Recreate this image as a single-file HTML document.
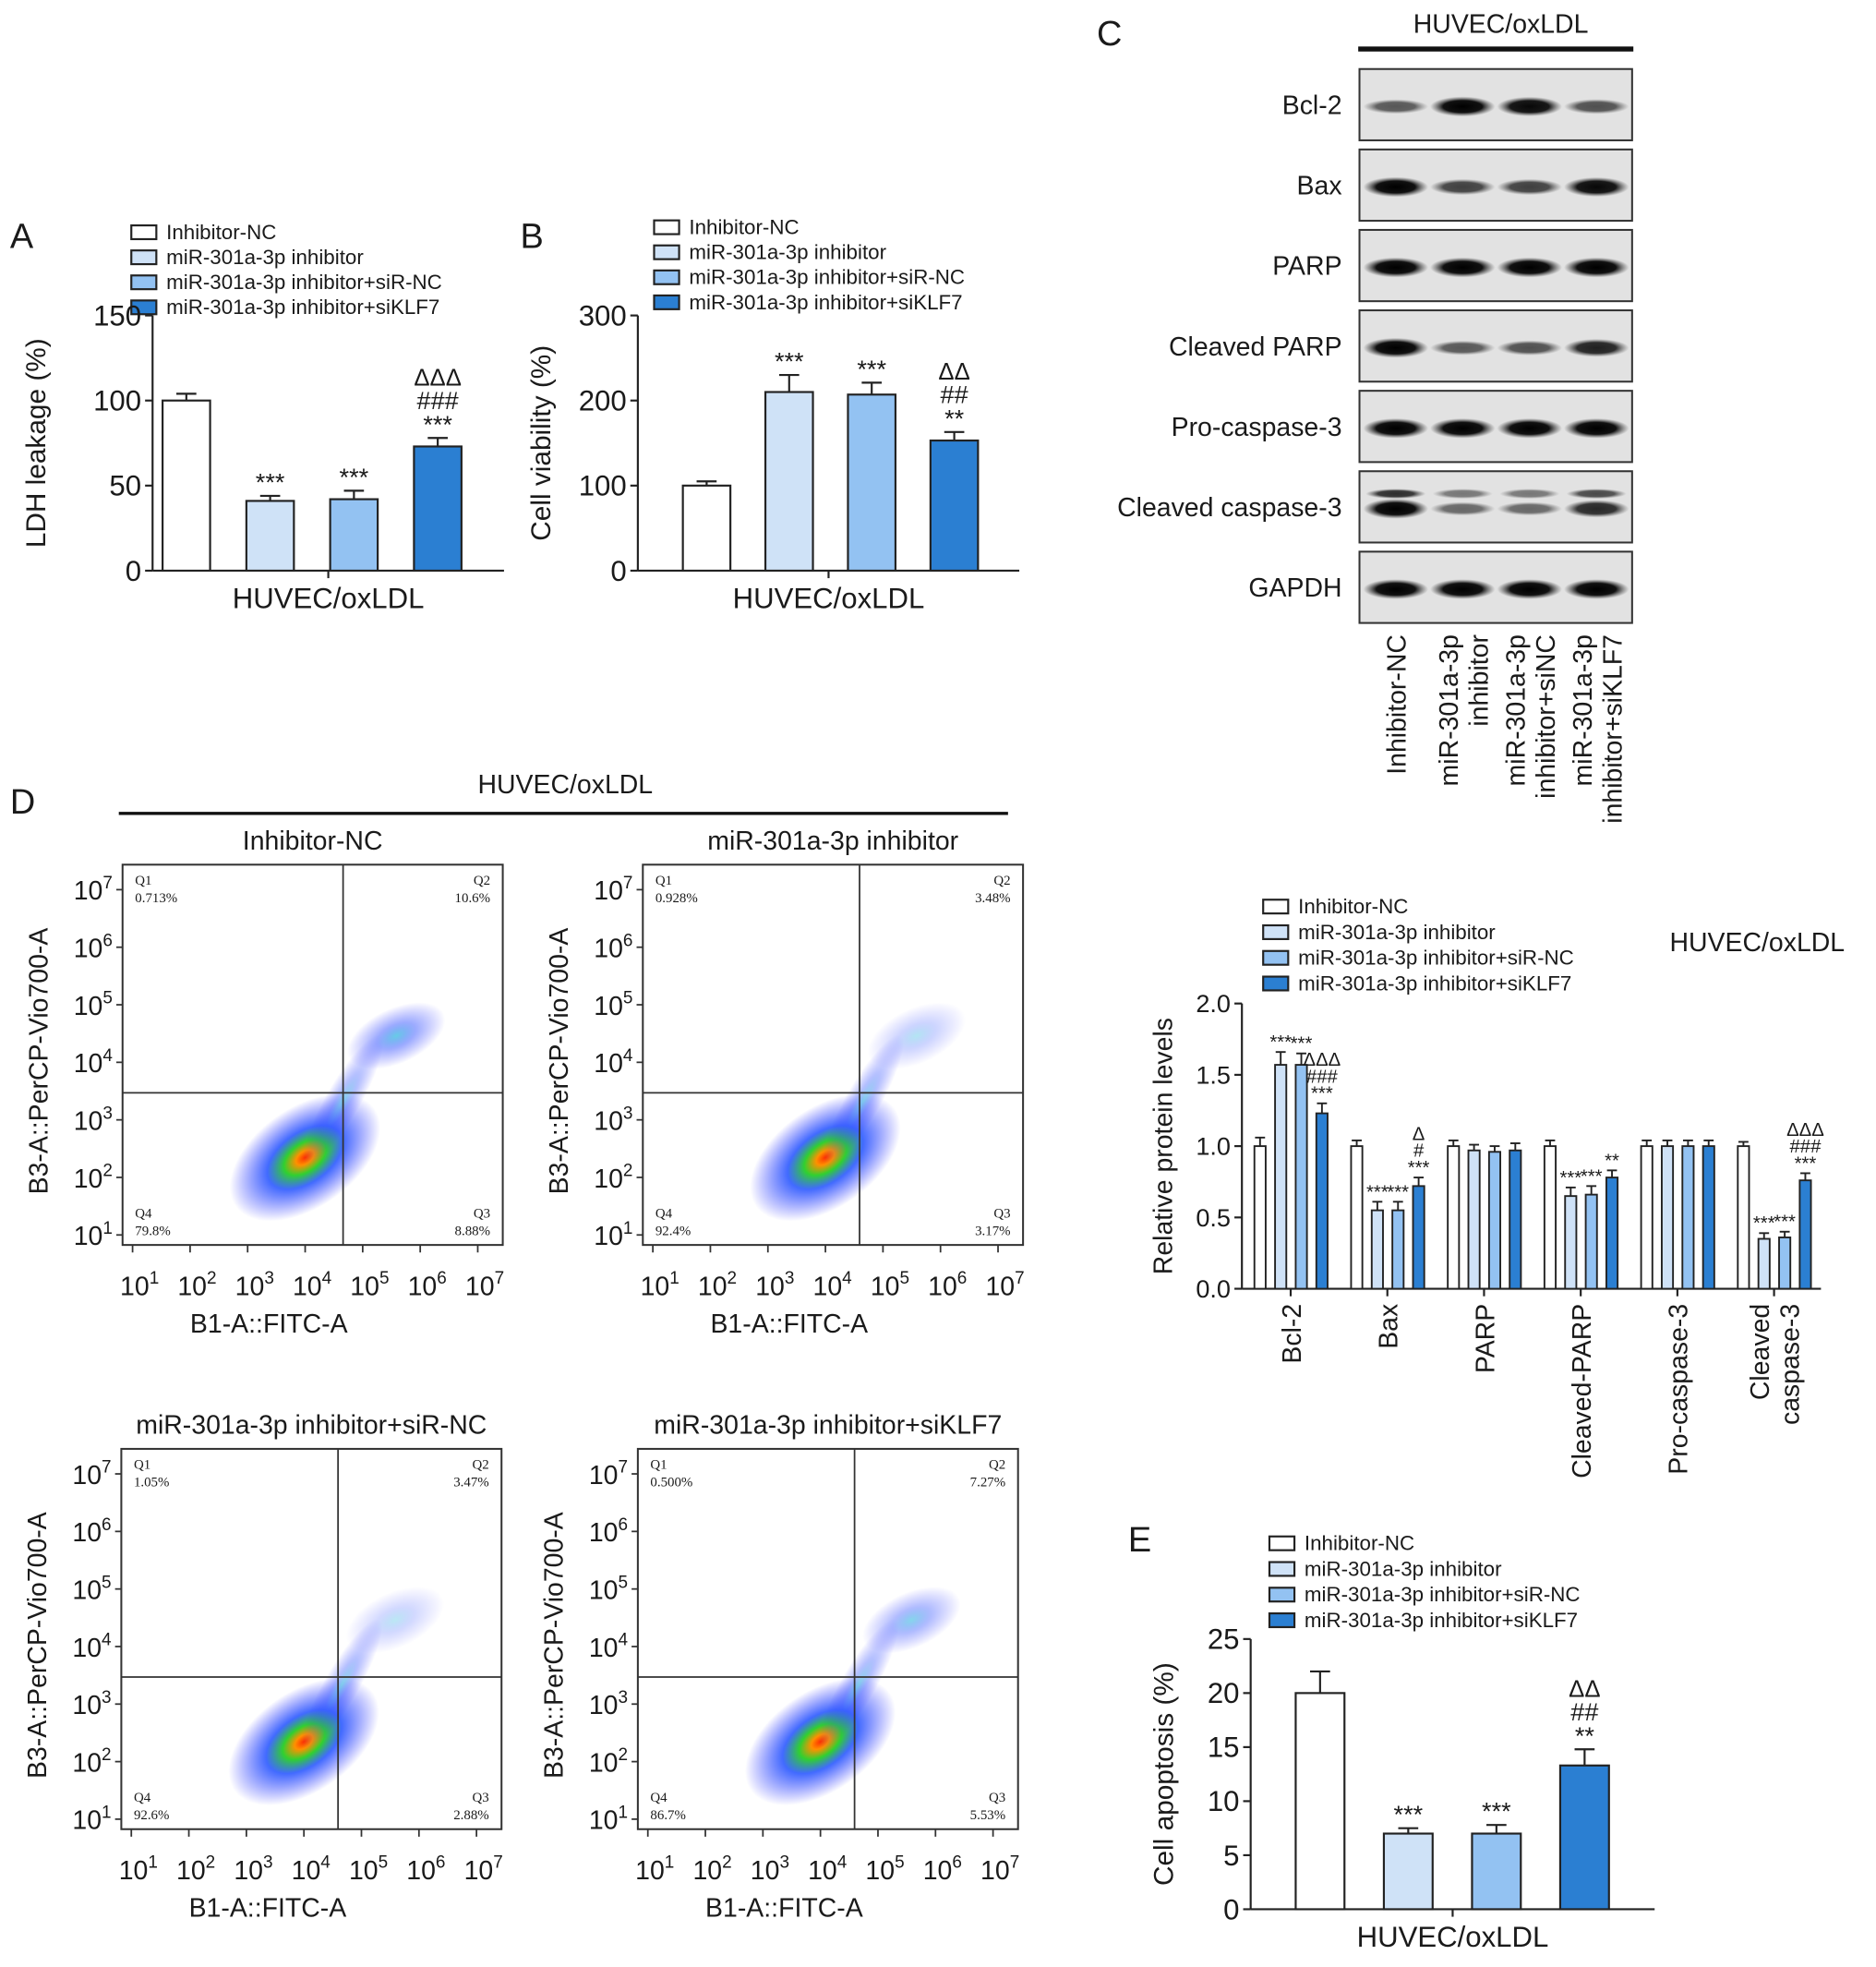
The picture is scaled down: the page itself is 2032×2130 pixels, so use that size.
<!DOCTYPE html>
<html><head><meta charset="utf-8"><style>
html,body{margin:0;padding:0;background:#fff}
svg{display:block}
text{font-family:"Liberation Sans",sans-serif;fill:#1a1a1a}
.q{font-family:"Liberation Serif",serif;font-size:11px}
</style></head><body>
<svg id="fig" width="2032" height="2130" viewBox="0 0 1500 1572" xmlns="http://www.w3.org/2000/svg">
<defs>
<radialGradient id="dens" cx="50%" cy="50%" r="50%">
<stop offset="0" stop-color="#ff3000"/><stop offset="0.12" stop-color="#ff9000"/><stop offset="0.28" stop-color="#30d030"/><stop offset="0.5" stop-color="#2050ff" stop-opacity="0.85"/><stop offset="1" stop-color="#3030ff" stop-opacity="0"/>
</radialGradient>
<radialGradient id="dens2" cx="50%" cy="50%" r="50%">
<stop offset="0" stop-color="#40c0e0"/><stop offset="0.4" stop-color="#3050ff" stop-opacity="0.6"/><stop offset="1" stop-color="#3030ff" stop-opacity="0"/>
</radialGradient>
<radialGradient id="band" cx="50%" cy="50%" r="50%">
<stop offset="0" stop-color="#000"/><stop offset="0.6" stop-color="#111"/><stop offset="1" stop-color="#444" stop-opacity="0"/>
</radialGradient>
</defs>
<g id="root"></g>
</svg>
<script>
const colors=['#ffffff','#cfe2f7','#93c2f2','#2b7fd2'];
const legendLabels=['Inhibitor-NC','miR-301a-3p inhibitor','miR-301a-3p inhibitor+siR-NC','miR-301a-3p inhibitor+siKLF7'];
const ldhValues=[100,41,42,73];
const ldhErrors=[4,3,5,5];
const ldhSig=[[],['***'],['***'],['***','###','ΔΔΔ']];
const ldhTicks=[0,50,100,150];
const viaValues=[100,210,207,153];
const viaErrors=[5,20,14,10];
const viaSig=[[],['***'],['***'],['**','##','ΔΔ']];
const viaTicks=[0,100,200,300];
const protCats=['Bcl-2','Bax','PARP','Cleaved-PARP','Pro-caspase-3','Cleaved\ncaspase-3'];
const protValues=[[1,1.57,1.57,1.23],[1,0.55,0.55,0.72],[1,0.97,0.96,0.97],[1,0.65,0.66,0.78],[1,1,1,1],[1,0.35,0.36,0.76]];
const protErrors=[[0.06,0.09,0.08,0.07],[0.04,0.06,0.06,0.06],[0.04,0.04,0.04,0.05],[0.04,0.06,0.06,0.05],[0.04,0.04,0.04,0.04],[0.03,0.04,0.04,0.05]];
const protSig=[[[],['***'],['***'],['***','###','ΔΔΔ']],[[],['***'],['***'],['***','#','Δ']],[[],[],[],[]],[[],['***'],['***'],['**']],[[],[],[],[]],[[],['***'],['***'],['***','###','ΔΔΔ']]];
const protTicks=[0,0.5,1.0,1.5,2.0];
const apoValues=[20,7,7,13.3];
const apoErrors=[2,0.5,0.8,1.5];
const apoSig=[[],['***'],['***'],['**','##','ΔΔ']];
const apoTicks=[0,5,10,15,20,25];
const blotRows=['Bcl-2','Bax','PARP','Cleaved PARP','Pro-caspase-3','Cleaved caspase-3','GAPDH'];
const blotIntensity=[[0.45,1,0.95,0.5],[1,0.6,0.6,0.95],[1,1,1,1],[1,0.45,0.5,0.8],[1,1,1,1],[1,0.35,0.35,0.75],[1,1,1,1]];
const blotLanes=['Inhibitor-NC','miR-301a-3p|inhibitor','miR-301a-3p|inhibitor+siNC','miR-301a-3p|inhibitor+siKLF7'];
const flowTitles=['Inhibitor-NC','miR-301a-3p inhibitor','miR-301a-3p inhibitor+siR-NC','miR-301a-3p inhibitor+siKLF7'];
const flowQ=[['0.713%','10.6%','8.88%','79.8%'],['0.928%','3.48%','3.17%','92.4%'],['1.05%','3.47%','2.88%','92.6%'],['0.500%','7.27%','5.53%','86.7%']];

const NS='http://www.w3.org/2000/svg';
const root=document.getElementById('root');
function el(tag,attrs,parent){const e=document.createElementNS(NS,tag);for(const k in attrs)e.setAttribute(k,attrs[k]);(parent||root).appendChild(e);return e;}
function txt(s,x,y,size,anchor,parent,extra){const t=el('text',Object.assign({x:x,y:y,'font-size':size,'text-anchor':anchor||'start'},extra||{}),parent);t.textContent=s;return t;}

function legend(x,y,gap,size,name){
  const g=el('g',{});
  
  
  legendLabels.forEach((l,i)=>{
    const r=el('rect',{x:x,y:y+i*gap-11,width:20,height:11,fill:colors[i],stroke:'#222','stroke-width':1.6},g);
    
    
    const t=txt(l,x+28,y+i*gap,size,'start',g);
    
    
  });
}

function barChart(o){
  const g=el('g',{});
  
  
  const ys=v=>o.y0-(v-o.ticks[0])/(o.ticks[o.ticks.length-1]-o.ticks[0])*(o.y0-o.y1);
  el('line',{x1:o.ax,y1:o.y1,x2:o.ax,y2:o.y0,stroke:'#222','stroke-width':1.6},g);
  el('line',{x1:o.ax,y1:o.y0,x2:o.axEnd,y2:o.y0,stroke:'#222','stroke-width':1.6},g);
  o.ticks.forEach(t=>{
    el('line',{x1:o.ax-6,y1:ys(t),x2:o.ax,y2:ys(t),stroke:'#222','stroke-width':1.6},g);
    const lb=txt(o.fmt?o.fmt(t):String(t),o.ax-9,ys(t)+8,o.tickSize||23,'end',g);
    
    
  });
  const mid=(o.ax+o.axEnd)/2;
  el('line',{x1:mid,y1:o.y0,x2:mid,y2:o.y0+6,stroke:'#222','stroke-width':1.6},g);
  const xt=txt('HUVEC/oxLDL',mid,o.y0+30,23,'middle',g);
  
  
  const yt=txt(o.ytitle,0,0,22,'middle',g,{transform:`translate(${o.ax-(o.titleOff||72)},${(o.y0+o.y1)/2}) rotate(-90)`});
  
  
  o.values.forEach((v,i)=>{
    const x=o.bx0+i*o.step, top=ys(v), et=ys(v+o.errors[i]);
    el('line',{x1:x+o.bw/2,y1:top,x2:x+o.bw/2,y2:et,stroke:'#222','stroke-width':1.6},g);
    el('line',{x1:x+o.bw/2-8,y1:et,x2:x+o.bw/2+8,y2:et,stroke:'#222','stroke-width':1.6},g);
    const b=el('rect',{x:x,y:top,width:o.bw,height:o.y0-top,fill:colors[i],stroke:'#222','stroke-width':1.6},g);
    
    
    o.sig[i].forEach((s,k)=>{
      const st=txt(s,x+o.bw/2,et-4-k*19,s.startsWith('Δ')?19:20,'middle',g);
      
      
    });
  });
}

/* Panels A & B */
txt('A',8,198,28,'start');
legend(105,191,20,16.5,'legend-a');
barChart({name:'ldh-chart',ax:122,axEnd:403,y0:456,y1:252,ticks:ldhTicks,values:ldhValues,errors:ldhErrors,sig:ldhSig,bx0:130,step:67,bw:38,ytitle:'LDH leakage (%)',titleOff:86});
txt('B',416,198,28,'start');
legend(523,187,20,16.5,'legend-b');
barChart({name:'viability-chart',ax:510,axEnd:815,y0:456,y1:252,ticks:viaTicks,values:viaValues,errors:viaErrors,sig:viaSig,bx0:546,step:66,bw:38,ytitle:'Cell viability (%)',titleOff:70});

/* Panel C - blot */
txt('C',877,36,28,'start');
txt('HUVEC/oxLDL',1200,26,21,'middle');
el('rect',{x:1086,y:37,width:220,height:4,fill:'#111'});
const blotG=el('g',{});


blotRows.forEach((r,i)=>{
  const y=55+i*64.3;
  el('rect',{x:1087,y:y,width:218,height:57,fill:'#e2e2e2',stroke:'#333','stroke-width':1.5},blotG);
  const lb=txt(r,1073,y+36,21,'end',blotG);
  
  
  blotIntensity[i].forEach((v,j)=>{
    const cx=1116+j*53.5;
    const h=8+8*v;
    el('ellipse',{cx:cx,cy:y+30,rx:26,ry:h/2,fill:'url(#band)',opacity:0.3+0.7*v},blotG);
    if(i===5) el('ellipse',{cx:cx,cy:y+18,rx:24,ry:4,fill:'url(#band)',opacity:0.3+0.5*v},blotG);
  });
});
blotLanes.forEach((l,j)=>{
  const parts=l.split('|');const cx=1116+j*53.5;
  parts.forEach((p,k)=>{
    const t=txt(p,0,0,21,'end',blotG,{transform:`translate(${cx+8-(parts.length-1-k)*24+(parts.length>1?12:0)},507) rotate(-90)`});
    
    
  });
});

/* Protein chart */
legend(1010,730,20.5,16.5,'legend-protein');
txt('HUVEC/oxLDL',1405,760,21,'middle');
(function(){
  const g=el('g',{});
  
  
  const ax=993,axEnd=1456,y0=1030,y1=802;
  const ys=v=>y0-v/2*(y0-y1);
  el('line',{x1:ax,y1:y1,x2:ax,y2:y0,stroke:'#222','stroke-width':1.6},g);
  el('line',{x1:ax,y1:y0,x2:axEnd,y2:y0,stroke:'#222','stroke-width':1.6},g);
  protTicks.forEach(t=>{
    el('line',{x1:ax-6,y1:ys(t),x2:ax,y2:ys(t),stroke:'#222','stroke-width':1.6},g);
    const lb=txt(t.toFixed(1),ax-9,ys(t)+7,20,'end',g);
    
    
  });
  const yt=txt('Relative protein levels',0,0,21,'middle',g,{transform:`translate(937,${(y0+y1)/2}) rotate(-90)`});
  
  
  protCats.forEach((c,gi)=>{
    const gx=1003+gi*77.3;
    protValues[gi].forEach((v,i)=>{
      const x=gx+i*16.5,bw=9,top=ys(v),et=ys(v+protErrors[gi][i]);
      el('line',{x1:x+bw/2,y1:top,x2:x+bw/2,y2:et,stroke:'#222','stroke-width':1.4},g);
      el('line',{x1:x+bw/2-4,y1:et,x2:x+bw/2+4,y2:et,stroke:'#222','stroke-width':1.4},g);
      const b=el('rect',{x:x,y:top,width:bw,height:y0-top,fill:colors[i],stroke:'#222','stroke-width':1.4},g);
      
      
      protSig[gi][i].forEach((s,k)=>{
        const st=txt(s,x+bw/2,et-3-k*13.5,15,'middle',g);
        
        
      });
    });
    const cx=gx+29;
    el('line',{x1:cx,y1:y0,x2:cx,y2:y0+6,stroke:'#222','stroke-width':1.6},g);
    const lines=c.split('\n');
    lines.forEach((ln,k)=>{
      const t=txt(ln,0,0,21,'end',g,{transform:`translate(${cx+8-(lines.length-1-k)*24+(lines.length>1?12:0)},1042) rotate(-90)`});
      
      
    });
  });
})();

/* Panel E */
txt('E',902,1240,28,'start');
legend(1015,1239,20.5,16.5,'legend-e');
barChart({name:'apoptosis-chart',ax:1000,axEnd:1323,y0:1526,y1:1310,ticks:apoTicks,values:apoValues,errors:apoErrors,sig:apoSig,bx0:1036,step:70.5,bw:39,ytitle:'Cell apoptosis (%)',titleOff:62});

/* Panel D - flow */
txt('D',8,650,28,'start');
txt('HUVEC/oxLDL',452,634,21,'middle');
el('line',{x1:95,y1:650,x2:806,y2:650,stroke:'#111','stroke-width':2.5});
const flowBoxes=[[98,691],[514,691],[97,1158],[510,1158]];
const qx=[0.58,0.57,0.57,0.57], qy=[0.6,0.6,0.6,0.6];
const upperAmt=[1,0.5,0.45,0.8];
flowBoxes.forEach((b,fi)=>{
  const [x,y]=b,w=304,h=304;
  const g=el('g',{});
  
  
  const tt=txt(flowTitles[fi],x+w/2,y-12,21,'middle',g);
  
  
  el('rect',{x:x,y:y,width:w,height:h,fill:'#fff',stroke:'#333','stroke-width':1.5},g);
  el('ellipse',{cx:x+w*0.48,cy:y+h*0.77,rx:68,ry:40,fill:'url(#dens)',transform:`rotate(-35 ${x+w*0.48} ${y+h*0.77})`},g);
  el('ellipse',{cx:x+w*0.58,cy:y+h*0.62,rx:60,ry:14,fill:'url(#dens2)',opacity:0.6,transform:`rotate(-60 ${x+w*0.58} ${y+h*0.62})`},g);
  el('ellipse',{cx:x+w*0.72,cy:y+h*0.45,rx:42,ry:22,fill:'url(#dens2)',opacity:upperAmt[fi]*0.8,transform:`rotate(-25 ${x+w*0.72} ${y+h*0.45})`},g);
  el('line',{x1:x+w*qx[fi],y1:y,x2:x+w*qx[fi],y2:y+h,stroke:'#333','stroke-width':1.3},g);
  el('line',{x1:x,y1:y+h*qy[fi],x2:x+w,y2:y+h*qy[fi],stroke:'#333','stroke-width':1.3},g);
  const q=flowQ[fi];
  [['Q1',q[0],x+10,y+16,'start'],['Q2',q[1],x+w-10,y+16,'end'],['Q3',q[2],x+w-10,y+h-22,'end'],['Q4',q[3],x+10,y+h-22,'start']].forEach(a=>{
    txt(a[0],a[2],a[3],11,a[4],g,{class:'q'});
    txt(a[1],a[2],a[3]+14,11,a[4],g,{class:'q'});
  });
  for(let k=1;k<=7;k++){
    const ty=y+h-8-(k-1)*(h-28)/6;
    const t=el('text',{x:x-8,y:ty+8,'font-size':21,'text-anchor':'end'},g);
    t.innerHTML='10<tspan font-size="14" dy="-9">'+k+'</tspan>';
    
    
    el('line',{x1:x-5,y1:ty,x2:x,y2:ty,stroke:'#333','stroke-width':1.3},g);
    const tx=x+8+(k-1)*(w-28)/6;
    const t2=el('text',{x:tx-10,y:y+h+40,'font-size':21,'text-anchor':'start'},g);
    t2.innerHTML='10<tspan font-size="14" dy="-9">'+k+'</tspan>';
    
    
    el('line',{x1:tx,y1:y+h,x2:tx,y2:y+h+6,stroke:'#333','stroke-width':1.3},g);
  }
  const xt=txt('B1-A::FITC-A',x+w/2-35,y+h+70,21,'middle',g);
  
  
  const yt=txt('B3-A::PerCP-Vio700-A',0,0,21,'middle',g,{transform:`translate(${x-60},${y+h/2+5}) rotate(-90)`});
  
  
});
</script>
</body></html>
